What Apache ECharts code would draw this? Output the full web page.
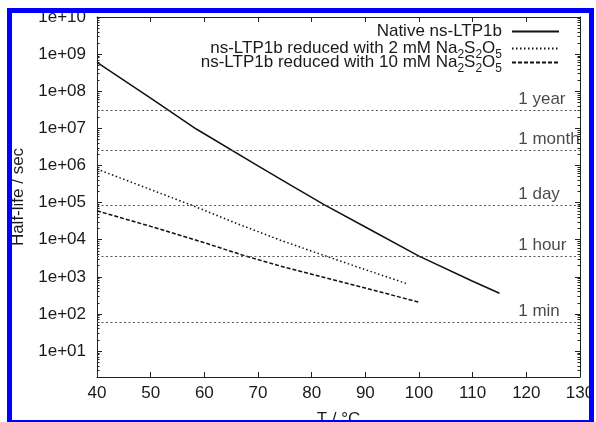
<!DOCTYPE html>
<html><head><meta charset="utf-8">
<script src="https://cdn.jsdelivr.net/npm/echarts@6/dist/echarts.min.js"></script>
<style>html,body{margin:0;padding:0;background:#fff}#c{width:596px;height:422px}</style>
</head><body><div id="c"></div>
<script>
// ---- data ----
const nativeT = [40, 50, 58.5, 70, 76, 82.4, 90, 100, 110, 115];
const nativeV = [6.0e8, 6.5e7, 9.6e6, 9.8e5, 3.0e5, 8.7e4, 2.2e4, 3.6e3, 7.6e2, 3.6e2];
const red2T = [40, 50, 57.9, 66, 74, 82, 90, 98];
const red2V = [8.0e5, 2.24e5, 8.2e4, 2.75e4, 9.9e3, 3.9e3, 1.56e3, 6.35e2];
const red10T = [40, 50, 60, 67.5, 74, 80, 90, 100];
const red10V = [6.0e4, 2.29e4, 8.3e3, 3.7e3, 1.98e3, 1.18e3, 4.97e2, 2.08e2];
const refNames = ['1 year', '1 month', '1 day', '1 hour', '1 min'];
const refValues = [31536000, 2592000, 86400, 3600, 60];
const seriesNames = ['Native ns-LTP1b', 'ns-LTP1b reduced with 2 mM Na2S2O5', 'ns-LTP1b reduced with 10 mM Na2S2O5'];
const xTicks = [40, 50, 60, 70, 80, 90, 100, 110, 120, 130];
const yMin = 2, yMax = 1e10;
const refLabelT = 118.4;

const FONT = 'Liberation Sans';
const TXT = '#1a1a1a';
const AX = '#222';

const zip = (a, b) => a.map((v, i) => [v, b[i]]);
const minorVals = [];
for (let e = 0; e < 10; e++) for (let k = 2; k <= 9; k++) {
  const v = k * Math.pow(10, e);
  if (v >= yMin && v <= yMax) minorVals.push(v);
}
const expFmt = v => {
  const l = Math.log10(v), e = Math.round(l);
  if (Math.abs(l - e) > 1e-6) return '';
  return '1e+' + (e < 10 ? '0' : '') + e;
};
const legendFmt = name => {
  if (name.indexOf('Na2S2O5') < 0) return '{m|' + name + '}';
  const base = name.replace('Na2S2O5', '');
  return '{m|' + base + 'Na}{s|2}{m|S}{s|2}{m|O}{s|5}';
};
const legendText = {
  fontFamily: FONT, fontSize: 17, color: TXT, padding: [0, 5, 0, 0],
  rich: {
    m: { fontFamily: FONT, fontSize: 17, color: TXT, lineHeight: 17, verticalAlign: 'top' },
    s: { fontFamily: FONT, fontSize: 12, color: TXT, lineHeight: 12, verticalAlign: 'top', padding: [8.5, 0, 3.5, 0] }
  }
};
const legendTops = [23, 40, 54];
const legends = seriesNames.map((n, i) => ({
  data: [n], orient: 'vertical', align: 'right', right: 36, top: legendTops[i],
  padding: 0, itemWidth: 47, itemHeight: 10, formatter: legendFmt,
  itemStyle: { opacity: 0, color: 'rgba(0,0,0,0)', borderWidth: 0 },
  textStyle: legendText, selectedMode: false
}));

const yBase = {
  type: 'log', min: yMin, max: yMax, splitNumber: 10, logBase: 10,
  splitLine: { show: false }
};

const chart = echarts.init(document.getElementById('c'), null, { renderer: 'canvas' });
chart.setOption({
  animation: false,
  backgroundColor: '#fff',
  legend: legends,
  grid: { left: 97, top: 17, width: 483, height: 360, containLabel: false, outerBoundsMode: 'none' },
  xAxis: [
    { type: 'value', min: xTicks[0], max: xTicks[xTicks.length - 1], interval: 10, position: 'bottom',
      name: 'T / °C', nameLocation: 'middle', nameGap: 34,
      nameTextStyle: { fontFamily: FONT, fontSize: 17, color: TXT },
      axisLine: { lineStyle: { color: AX, width: 1 } },
      axisTick: { inside: true, length: 5, lineStyle: { color: AX } },
      axisLabel: { margin: 8, fontFamily: FONT, fontSize: 17, color: TXT },
      splitLine: { show: false } },
    { type: 'value', min: xTicks[0], max: xTicks[xTicks.length - 1], interval: 10, position: 'top',
      axisLine: { lineStyle: { color: AX, width: 1 } },
      axisTick: { inside: true, length: 5, lineStyle: { color: AX } },
      axisLabel: { show: false }, splitLine: { show: false } }
  ],
  yAxis: [
    Object.assign({}, yBase, { position: 'left',
      name: 'Half-life / sec', nameLocation: 'middle', nameGap: 70,
      nameTextStyle: { fontFamily: FONT, fontSize: 17, color: TXT },
      axisLine: { lineStyle: { color: AX, width: 1 } },
      axisTick: { inside: true, length: 5, lineStyle: { color: AX } },
      axisLabel: { margin: 11, fontFamily: FONT, fontSize: 17, color: TXT, formatter: expFmt, showMinLabel: false } }),
    Object.assign({}, yBase, { position: 'right',
      axisLine: { lineStyle: { color: AX, width: 1 } },
      axisTick: { inside: true, length: 5, lineStyle: { color: AX } },
      axisLabel: { show: false } }),
    Object.assign({}, yBase, { position: 'left',
      axisLine: { show: false },
      axisTick: { inside: true, length: 2.5, customValues: minorVals, lineStyle: { color: AX } },
      axisLabel: { show: false } }),
    Object.assign({}, yBase, { position: 'right',
      axisLine: { show: false },
      axisTick: { inside: true, length: 2.5, customValues: minorVals, lineStyle: { color: AX } },
      axisLabel: { show: false } })
  ],
  series: [
    { name: seriesNames[0], type: 'line', data: zip(nativeT, nativeV), symbol: 'none',
      lineStyle: { color: '#111', width: 1.5, type: 'solid' }, itemStyle: { color: '#111' },
      markLine: { silent: true, symbol: 'none', animation: false,
        label: { show: false },
        lineStyle: { color: '#555', width: 1, type: [2, 2.5] },
        data: refValues.map(v => ({ yAxis: v })) } },
    { name: seriesNames[1], type: 'line', data: zip(red2T, red2V), symbol: 'none',
      lineStyle: { color: '#111', width: 1.5, type: [1.5, 2.5] }, itemStyle: { color: '#111' } },
    { name: seriesNames[2], type: 'line', data: zip(red10T, red10V), symbol: 'none',
      lineStyle: { color: '#111', width: 1.5, type: [4, 2] }, itemStyle: { color: '#111' } },
    { name: 'refLabels', type: 'scatter', silent: true, symbolSize: 1,
      itemStyle: { color: 'rgba(0,0,0,0)' },
      data: refValues.map((v, i) => ({ name: refNames[i], value: [refLabelT, v] })),
      label: { show: true, position: 'right', distance: 0, offset: [0, -10.5], formatter: '{b}',
        fontFamily: FONT, fontSize: 17, color: TXT } }
  ],
  graphic: [
    { type: 'rect', z: 100, shape: { x: 7, y: 8, width: 587, height: 5 }, style: { fill: '#0000ff' } },
    { type: 'rect', z: 100, shape: { x: 7, y: 8, width: 5, height: 414 }, style: { fill: '#0000ff' } },
    { type: 'rect', z: 100, shape: { x: 589, y: 8, width: 5, height: 414 }, style: { fill: '#0000ff' } },
    { type: 'rect', z: 100, shape: { x: 7, y: 420, width: 587, height: 2 }, style: { fill: '#0000ff' } }
  ]
});
</script>
</body></html>
